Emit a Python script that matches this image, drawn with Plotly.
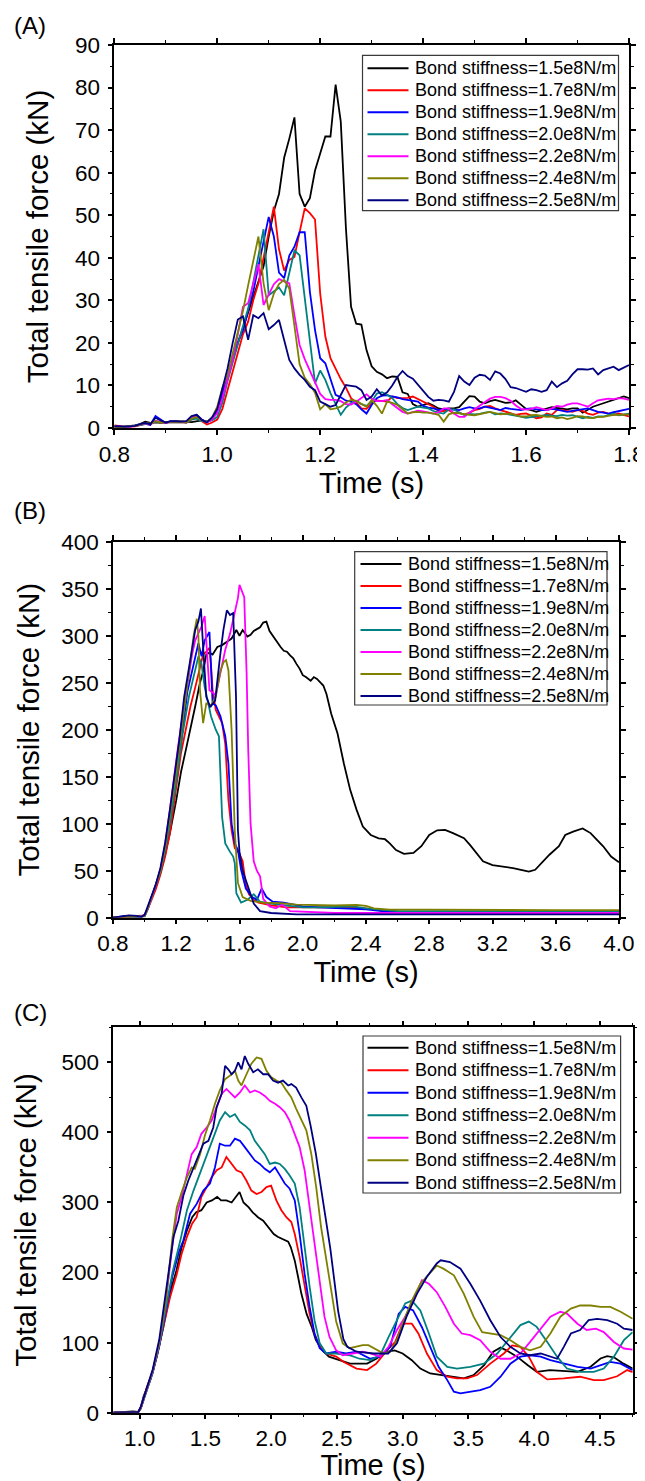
import plotly.graph_objects as go

# The page body keeps its default 8px margin, so the figure is sized to fill
# the remaining window area and reference pixels are shifted by that margin.
PAGE_W, PAGE_H, OFF = 645, 1481, 8
W, H = PAGE_W - OFF, PAGE_H - OFF
FONT = "Liberation Sans, Arial, sans-serif"

labels = ["Bond stiffness=1.5e8N/m", "Bond stiffness=1.7e8N/m", "Bond stiffness=1.9e8N/m",
          "Bond stiffness=2.0e8N/m", "Bond stiffness=2.2e8N/m", "Bond stiffness=2.4e8N/m",
          "Bond stiffness=2.5e8N/m"]
colors = ["#000000", "#FF0000", "#0000FF", "#008080", "#FF00FF", "#808000", "#000080"]

# ---------------- Panel A (0.01 s grid) ----------------
time_a = [0.80, 0.81, 0.82, 0.83, 0.84, 0.85, 0.86, 0.87, 0.88, 0.89,
          0.90, 0.91, 0.92, 0.93, 0.94, 0.95, 0.96, 0.97, 0.98, 0.99,
          1.00, 1.01, 1.02, 1.03, 1.04, 1.05, 1.06, 1.07, 1.08, 1.09,
          1.10, 1.11, 1.12, 1.13, 1.14, 1.15, 1.16, 1.17, 1.18, 1.19,
          1.20, 1.21, 1.22, 1.23, 1.24, 1.25, 1.26, 1.27, 1.28, 1.29,
          1.30, 1.31, 1.32, 1.33, 1.34, 1.35, 1.36, 1.37, 1.38, 1.39,
          1.40, 1.41, 1.42, 1.43, 1.44, 1.45, 1.46, 1.47, 1.48, 1.49,
          1.50, 1.51, 1.52, 1.53, 1.54, 1.55, 1.56, 1.57, 1.58, 1.59,
          1.60, 1.61, 1.62, 1.63, 1.64, 1.65, 1.66, 1.67, 1.68, 1.69,
          1.70, 1.71, 1.72, 1.73, 1.74, 1.75, 1.76, 1.77, 1.78, 1.79, 1.80]

a_k15 = [0.3, 0.2, 0.3, 0.4, 0.6, 0.9, 1.5, 1.2, 1.3, 1.2, 1.4, 1.5, 1.6, 1.6, 1.5, 1.4, 1.6, 1.8, 1.5, 2.2,
         4, 8, 12.5, 16.5, 20, 23.5, 27, 30.5, 34, 38,
         45, 51, 55, 63.5, 68, 73, 55, 52, 54, 60.5,
         64.5, 68.5, 68.5, 80.7, 72, 47, 28.5, 24.5, 24.3, 18.3,
         14.5, 13.2, 12.6, 11.7, 12.1, 12, 8.4, 8, 5.6, 5,
         5.4, 5.8, 5.3, 4.6, 4.4, 4.6, 4.6, 4.9, 6.2, 7.5,
         7.4, 6.2, 5.8, 6.3, 6.6, 6.2, 5.9, 6.0, 6.5, 5.5,
         4.5, 4.2, 3.8, 4.2, 4.5, 4.9, 4.7, 4.6, 4.4, 4.6,
         4.6, 3.6, 4.3, 5.0, 5.4, 5.8, 6.1, 6.6, 7.0, 7.4, 7.0]
a_k17 = [0.6, 0.4, 0.3, 0.3, 0.4, 0.7, 1.0, 0.8, 1.6, 1.3, 1.2, 1.4, 1.3, 1.4, 1.2, 2.0, 2.5, 1.6, 0.8, 1.3,
         2, 4.5, 9, 13.5, 18, 22, 25, 30, 34, 40,
         46.5, 52, 42, 37, 39.5, 40.2, 46, 51.6, 50.5, 49,
         31.6, 21.5, 16.4, 13.8, 11.5, 9.5, 7, 6, 4.6, 4.5,
         5.8, 6.5, 6.4, 6.2, 7.4, 7, 7, 7.1, 7.4, 6.8,
         6.2, 5.6, 5, 4, 4, 4.2, 3.4, 3.6, 3.1, 3.6,
         4.2, 4.5, 5, 5.2, 4.6, 4.2, 3.8, 3.4, 3.1, 3.3,
         3.4, 2.9, 2.3, 2.5, 3.4, 3.1, 4.2, 4.2, 4.0, 3.8,
         4.2, 4.0, 3.4, 3.1, 3.6, 3.8, 3.4, 3.1, 3.4, 3.0, 2.7]
a_k19 = [0.4, 0.3, 0.3, 0.4, 0.5, 0.8, 1.0, 0.7, 2.8, 2.0, 1.2, 1.6, 1.5, 1.4, 1.5, 2.6, 3.1, 2.0, 1.4, 2.2,
         4, 8, 12, 16, 20, 23, 27.5, 32, 38, 44,
         49.6, 45, 36.5, 35.2, 40.5, 42.6, 46, 46, 32, 23,
         16.4, 15.2, 11.5, 7.8, 7.2, 6.4, 6.2, 5.6, 4.4, 3.4,
         5.4, 7.0, 7.6, 7.7, 7.4, 7.2, 6.8, 6.6, 6.5, 6.2,
         5.2, 4.8, 4.6, 4.2, 4.5, 4.4, 4.2, 4.2, 4.6, 4.9,
         4.6, 4.6, 5.0, 4.8, 4.5, 4.2, 4.7, 4.5, 4.3, 4.2,
         4.5, 4.6, 4.4, 4.2, 4.2, 4.5, 4.3, 4.0, 3.8, 4.0,
         4.2, 4.4, 4.6, 4.2, 3.8, 3.6, 3.4, 3.7, 4.0, 4.3, 4.5]
a_k20 = [0.3, 0.2, 0.3, 0.4, 0.5, 0.7, 0.9, 1.1, 1.5, 1.3, 1.3, 1.4, 1.3, 1.4, 1.3, 2.0, 2.2, 1.6, 1.5, 1.8,
         2.6, 6, 11, 15.5, 20, 24, 28, 34, 40, 46.7,
         31.2, 32, 33, 31.2, 36.5, 41.7, 40.6, 30.5, 20, 10.5,
         13.5, 11.3, 8.2, 5.8, 3.1, 4.8, 5.8, 6.4, 5.6, 5.2,
         6.2, 8.1, 8.4, 7.8, 7.0, 5.6, 4.7, 4.2, 4.6, 5.0,
         4.8, 4.6, 4.0, 3.6, 3.4, 4.4, 4.4, 3.6, 3.1, 3.3,
         3.2, 3.3, 3.6, 3.8, 3.2, 3.4, 3.3, 3.1, 3.0, 2.7,
         2.4, 2.6, 2.7, 3.0, 3.1, 2.9, 2.8, 3.1, 2.9, 3.0,
         2.6, 2.3, 2.6, 2.4, 2.7, 2.7, 3.0, 3.3, 3.0, 3.2, 3.4]
a_k22 = [0.3, 0.2, 0.3, 0.3, 0.5, 0.8, 1.1, 0.9, 1.7, 1.4, 1.3, 1.5, 1.4, 1.5, 1.4, 2.5, 2.8, 1.9, 1.3, 2.0,
         3.5, 7, 11.5, 16, 22, 28.5, 29.3, 34, 38.5, 28.9,
         31.5, 33.8, 35, 34.5, 34, 26.5, 19.5, 16.2, 13.4, 11,
         8, 6.8, 6.6, 6.6, 6.3, 5.6, 5.5, 6.2, 7, 7.9,
         6.9, 6.3, 6.3, 6.6, 5.6, 4.6, 3.8, 3.4, 3.7, 4.1,
         3.9, 3.6, 3.4, 3.7, 4.6, 4.6, 3.4, 2.6, 2.6, 3.6,
         4.4, 5.2, 6.0, 6.9, 7.3, 7.3, 7.0, 6.4, 5.3, 4.5,
         4.3, 4.5, 4.9, 4.6, 4.2, 4.6, 5.2, 5.0, 5.5, 5.8,
         5.8, 5.4, 5.0, 5.8, 6.5, 6.7, 6.9, 6.8, 7.0, 6.9, 6.6]
a_k24 = [0.3, 0.2, 0.3, 0.4, 0.5, 0.8, 1.2, 1.0, 1.6, 1.3, 1.4, 1.5, 1.4, 1.5, 1.4, 2.2, 2.6, 1.8, 1.4, 2.5,
         5, 9.5, 12.5, 17.5, 22, 27.5, 33.5, 39.5, 45, 34,
         27.7, 31.6, 33.8, 34.8, 32.8, 24, 15, 11.8, 10.3, 8.3,
         4.4, 5.6, 4.4, 4.6, 5.0, 6.0, 6.6, 6.4, 5.6, 5.0,
         6.6, 5.2, 3.4, 6.2, 5.9, 5.4, 4.4, 3.4, 3.7, 3.8,
         3.6, 3.6, 3.4, 3.1, 1.5, 3.2, 3.6, 3.4, 3.3, 3.1,
         3.0, 3.3, 3.6, 3.8, 3.5, 3.2, 3.3, 3.4, 3.0, 2.7,
         2.7, 3.0, 3.1, 2.8, 2.6, 2.7, 2.3, 2.5, 2.1, 2.4,
         2.8, 2.7, 2.4, 2.3, 2.6, 2.6, 2.9, 3.1, 3.1, 3.2, 3.2]
a_k25 = [0.4, 0.3, 0.3, 0.4, 0.5, 0.9, 1.2, 0.9, 2.4, 1.8, 1.3, 1.6, 1.5, 1.5, 1.6, 2.8, 3.1, 1.9, 1.3, 2.5,
         4.5, 9, 14, 20, 25.5, 26.2, 20.7, 26.5, 25.8, 27,
         23.2, 24.2, 25.4, 20.7, 16, 14, 12.5, 11.3, 9.7, 8.9,
         6.2, 5.6, 5.0, 5.4, 7.6, 10.1, 9.9, 9.7, 8.9, 6.6,
         7.4, 9.1, 7.6, 8.4, 10.0, 12.0, 13.4, 12.2, 11.6, 10.2,
         8.9, 7.3, 6.4, 6.6, 6.5, 6.2, 8.5, 12.2, 10.9, 10.1,
         11.8, 12.5, 12.3, 11.3, 13.3, 12.8, 11.5, 9.6, 9.4, 9.0,
         8.5, 9.1, 8.9, 8.5, 8.9, 10.9, 9.6, 10.5, 11.1, 12.6,
         13.8, 13.8, 13.7, 14.0, 12.6, 13.6, 14.0, 14.4, 13.6, 14.2, 14.8]

# ---------------- Panel B ----------------
b_t15 = [0.80, 0.85, 0.90, 0.95, 0.98, 1.00, 1.02, 1.04, 1.07, 1.10, 1.13, 1.16, 1.20, 1.23, 1.26,
         1.29, 1.32, 1.35, 1.37, 1.39, 1.41, 1.43, 1.46, 1.49, 1.52, 1.55, 1.58, 1.60, 1.62, 1.65,
         1.67, 1.69, 1.71, 1.73, 1.75, 1.77, 1.79, 1.81, 1.84, 1.86, 1.88, 1.90, 1.92, 1.94, 1.96,
         1.98, 2.00, 2.02, 2.05, 2.07, 2.09, 2.11, 2.13, 2.15, 2.18, 2.22, 2.26, 2.30, 2.34, 2.38,
         2.43, 2.48, 2.52, 2.55, 2.59, 2.64, 2.70, 2.75, 2.80, 2.85, 2.90, 2.95, 3.02, 3.06, 3.10,
         3.14, 3.20, 3.27, 3.33, 3.38, 3.43, 3.47, 3.51, 3.56, 3.62, 3.66, 3.71, 3.77, 3.82, 3.86,
         3.90, 3.95, 4.00]
b_k15 = [0, 0.5, 1.5, 2, 1.5, 3, 10, 20, 32, 48, 68, 90, 125, 155, 178,
         200, 225, 250, 262, 280, 282, 280, 288, 290, 294, 297, 306, 300, 306, 299,
         301, 305, 307, 309, 314, 315, 305, 300, 293, 288, 284, 283, 279, 276, 270,
         265, 258, 256, 252, 256, 254, 250, 247, 238, 217, 196, 164, 136, 115, 97,
         88, 84.5, 83.5, 79, 72, 68, 69, 76, 88, 93, 93.4, 90, 84.5, 77, 68.6,
         60, 56, 54.5, 52.7, 51, 49, 51, 58, 67, 76, 88, 91.6, 95, 90, 83,
         76, 65, 59]
b_t17 = [0.80, 0.90, 0.95, 0.98, 1.00, 1.02, 1.04, 1.07, 1.10, 1.13, 1.16, 1.20, 1.23, 1.26, 1.29,
         1.32, 1.34, 1.37, 1.39, 1.41, 1.42, 1.43, 1.45, 1.47, 1.49, 1.51, 1.52, 1.53, 1.55, 1.57,
         1.60, 1.62, 1.64, 1.66, 1.69, 1.72, 1.75, 1.80, 1.85, 1.90, 2.00, 2.10, 2.20, 2.30, 2.40,
         2.50, 2.60, 3.00, 3.50, 4.00]
b_k17 = [0, 1, 1.5, 1, 2, 9, 18, 30, 46, 65, 90, 140, 175, 200, 225,
         245, 258, 280, 283, 287, 268, 242, 221, 214, 207, 185, 160, 125, 93, 74,
         68, 60, 35, 25, 19, 16, 15, 13, 12, 11, 11, 11, 11.5, 11, 10,
         7.5, 6.5, 6, 6, 6]
b_t19 = [0.80, 0.88, 0.95, 1.00, 1.02, 1.04, 1.07, 1.10, 1.13, 1.16, 1.20, 1.23, 1.27, 1.31, 1.34,
         1.36, 1.38, 1.41, 1.42, 1.43, 1.45, 1.46, 1.48, 1.51, 1.53, 1.55, 1.57, 1.59, 1.61, 1.64,
         1.68, 1.71, 1.74, 1.77, 1.81, 1.88, 1.95, 2.00, 2.10, 2.20, 2.30, 2.40, 2.50, 2.60, 3.00,
         3.50, 4.00]
b_k19 = [0, 2, 1, 2, 10, 20, 33, 50, 72, 105, 150, 185, 240, 271, 292,
         278, 295, 304, 260, 228, 226, 222, 214, 193, 164, 100, 79, 72, 51, 31,
         22, 19, 31, 22, 17, 16, 14, 12, 11, 10.5, 10, 9, 7, 6, 6,
         5.5, 5.5]
b_t20 = [0.80, 0.90, 0.95, 1.00, 1.02, 1.04, 1.07, 1.10, 1.13, 1.16, 1.20, 1.24, 1.28, 1.31, 1.34,
         1.36, 1.38, 1.40, 1.42, 1.45, 1.47, 1.49, 1.51, 1.54, 1.56, 1.57, 1.58, 1.61, 1.65, 1.69,
         1.73, 1.80, 1.90, 2.00, 2.10, 2.20, 2.32, 2.40, 2.50, 2.60, 3.00, 3.50, 4.00]
b_k20 = [0, 1, 1.2, 1.5, 9, 19, 32, 49, 72, 100, 145, 195, 235, 258, 278,
         270, 245, 230, 214, 200, 193, 107, 79, 70, 65, 58, 26, 16, 19, 25,
         17, 15, 13, 11, 11, 11.5, 12, 10, 8.5, 7, 7, 7, 7]
b_t22 = [0.80, 0.90, 0.95, 1.00, 1.02, 1.04, 1.07, 1.10, 1.13, 1.16, 1.18, 1.21, 1.24, 1.27, 1.30,
         1.32, 1.36, 1.38, 1.39, 1.41, 1.45, 1.48, 1.51, 1.54, 1.57, 1.59, 1.60, 1.62, 1.63, 1.645,
         1.655, 1.67, 1.69, 1.71, 1.73, 1.75, 1.79, 1.83, 1.87, 1.92, 2.00, 2.20, 2.50, 3.00, 3.50,
         4.00]
b_k22 = [0, 1, 1.5, 2.5, 10, 20, 34, 52, 78, 115, 143, 180, 215, 246, 280,
         295, 310, 321, 290, 242, 237, 260, 285, 302, 327, 340, 354, 345, 341, 260,
         180, 100, 60, 50, 44, 20, 12, 10, 14, 7, 6.5, 5, 5, 5, 5,
         5]
b_t24 = [0.80, 0.90, 0.95, 1.00, 1.02, 1.04, 1.07, 1.10, 1.13, 1.16, 1.20, 1.23, 1.26, 1.29, 1.31,
         1.33, 1.34, 1.35, 1.37, 1.39, 1.42, 1.45, 1.48, 1.50, 1.515, 1.53, 1.55, 1.57, 1.59, 1.62,
         1.67, 1.75, 1.86, 1.96, 2.10, 2.20, 2.34, 2.40, 2.45, 2.55, 2.80, 3.20, 3.60, 4.00]
b_k24 = [0, 1, 1.5, 2, 10, 20, 33, 50, 75, 108, 155, 195, 235, 275, 300,
         318, 300, 242, 207, 228, 226, 235, 263, 272, 274, 263, 200, 93, 37, 22,
         18, 16, 15.5, 14, 13, 13, 13.5, 12.5, 10, 8.5, 8.5, 8, 8, 8]
b_t25 = [0.80, 0.85, 0.90, 0.95, 0.98, 1.00, 1.02, 1.04, 1.07, 1.10, 1.13, 1.16, 1.19, 1.22, 1.25,
         1.29, 1.32, 1.34, 1.356, 1.37, 1.39, 1.415, 1.446, 1.477, 1.498, 1.52, 1.54, 1.56, 1.578, 1.59,
         1.60, 1.62, 1.64, 1.66, 1.69, 1.73, 1.80, 1.96, 2.50, 3.00, 3.50, 4.00]
b_k25 = [0, 1, 2.5, 2, 1, 3, 12, 22, 35, 53, 80, 115, 150, 190, 235,
         278, 306, 315, 329, 288, 235, 224, 231, 278, 306, 327, 322, 324, 235, 93,
         70, 50, 40, 32, 15, 7, 5, 3.5, 3.5, 3.5, 3.5, 3.5]

# ---------------- Panel C ----------------
c_t15 = [0.80, 0.90, 0.95, 0.99, 1.01, 1.03, 1.08, 1.13, 1.18, 1.23, 1.28, 1.32, 1.36, 1.40, 1.43,
         1.47, 1.51, 1.55, 1.59, 1.62, 1.66, 1.70, 1.74, 1.76, 1.79, 1.83, 1.86, 1.90, 1.94, 1.98,
         2.02, 2.05, 2.09, 2.13, 2.15, 2.18, 2.205, 2.23, 2.27, 2.31, 2.34, 2.39, 2.44, 2.52, 2.60,
         2.67, 2.73, 2.80, 2.88, 2.94, 3.00, 3.07, 3.135, 3.21, 3.29, 3.36, 3.465, 3.54, 3.62, 3.69,
         3.745, 3.79, 3.87, 3.95, 4.02, 4.12, 4.23, 4.33, 4.43, 4.505, 4.556, 4.61, 4.68, 4.75]
c_k15 = [0, 1, 2, 1, 8, 23, 46.5, 80, 122, 170, 203, 236, 260, 279, 286,
         289, 300, 303, 308, 303, 303, 300, 310, 315, 300, 293, 286, 279, 274, 265,
         255, 251, 248, 244, 236, 217, 194, 170, 141, 122, 104, 89, 80, 75, 70,
         70, 70, 77, 87, 89, 84.5, 75, 63, 56, 53.7, 51.3, 49, 53.7, 68, 87,
         93, 89, 80, 68, 58.4, 60.8, 60, 58.4, 65.5, 77.4, 80.7, 78.8, 70, 63]
c_t17 = [0.80, 0.90, 0.99, 1.01, 1.056, 1.10, 1.13, 1.18, 1.232, 1.283, 1.32, 1.36, 1.40, 1.434, 1.47,
         1.51, 1.548, 1.586, 1.624, 1.66, 1.70, 1.737, 1.775, 1.813, 1.85, 1.89, 1.927, 1.965, 2.00, 2.04,
         2.078, 2.116, 2.154, 2.18, 2.217, 2.255, 2.293, 2.33, 2.37, 2.42, 2.495, 2.55, 2.65, 2.73, 2.80,
         2.88, 2.944, 3.00, 3.07, 3.12, 3.185, 3.26, 3.34, 3.414, 3.49, 3.566, 3.667, 3.77, 3.833, 3.896,
         3.96, 4.02, 4.10, 4.226, 4.35, 4.454, 4.53, 4.632, 4.708, 4.75]
c_k17 = [0, 1, 1, 6, 37, 58, 80, 122, 165, 198, 227, 251, 270, 279, 308,
         322, 336, 346, 350, 365, 355, 346, 343, 331, 317, 312, 315, 322, 324, 303,
         289, 279, 272, 255, 222, 180, 141, 113, 94, 84.5, 80, 72.6, 63, 60.8, 70,
         89, 101, 127, 127, 113, 84.5, 60.8, 51.3, 49, 49, 53.7, 70, 84.5, 96, 94,
         80, 58.4, 47.5, 49, 51.3, 46.5, 46.5, 52, 60.8, 58]
c_t19 = [0.80, 0.90, 0.99, 1.01, 1.05, 1.10, 1.15, 1.20, 1.25, 1.30, 1.333, 1.384, 1.434, 1.485, 1.535,
         1.573, 1.61, 1.65, 1.687, 1.725, 1.763, 1.80, 1.84, 1.876, 1.914, 1.952, 1.99, 2.03, 2.066, 2.104,
         2.14, 2.18, 2.217, 2.255, 2.293, 2.33, 2.37, 2.42, 2.495, 2.57, 2.65, 2.754, 2.83, 2.906, 2.97,
         3.02, 3.08, 3.147, 3.21, 3.274, 3.34, 3.39, 3.44, 3.515, 3.59, 3.667, 3.745, 3.82, 3.896, 3.97,
         4.05, 4.124, 4.226, 4.33, 4.43, 4.505, 4.58, 4.658, 4.75]
c_k19 = [0, 1, 1, 7, 30, 57, 95, 145, 195, 230, 246, 284, 298, 317, 327,
         350, 384, 381, 381, 391, 388, 379, 369, 360, 355, 348, 343, 350, 339, 327,
         320, 303, 255, 198, 151, 113, 92, 84.5, 87, 84.5, 87, 77, 80, 94, 141,
         151, 146, 122, 94, 65.5, 46.5, 30, 27.5, 30, 32.3, 37, 51.3, 70, 80, 82,
         80, 75, 70, 65.5, 63, 68, 72.6, 70, 60.8]
c_t20 = [0.80, 0.90, 0.99, 1.01, 1.05, 1.10, 1.15, 1.20, 1.25, 1.31, 1.36, 1.41, 1.447, 1.485, 1.535,
         1.573, 1.61, 1.65, 1.687, 1.725, 1.763, 1.80, 1.84, 1.876, 1.914, 1.952, 1.99, 2.03, 2.066, 2.104,
         2.14, 2.18, 2.217, 2.255, 2.293, 2.33, 2.37, 2.42, 2.495, 2.596, 2.672, 2.754, 2.83, 2.893, 2.957,
         3.02, 3.07, 3.135, 3.20, 3.26, 3.34, 3.414, 3.515, 3.617, 3.72, 3.82, 3.896, 3.96, 4.02, 4.10,
         4.175, 4.25, 4.35, 4.454, 4.53, 4.607, 4.683, 4.75]
c_k20 = [0, 1, 1, 7, 30, 58, 97, 148, 200, 246, 289, 317, 336, 353, 381,
         398, 417, 429, 422, 426, 415, 410, 403, 388, 379, 369, 355, 357, 355, 348,
         339, 327, 293, 236, 180, 132, 99, 84.5, 84.5, 82, 77, 75, 82, 108, 132,
         156, 160, 146, 113, 80, 65.5, 63, 65.5, 70, 84.5, 108, 125, 130, 122.5, 101,
         80, 63, 58.4, 58.4, 63, 80, 103.5, 115]
c_t22 = [0.80, 0.90, 0.99, 1.01, 1.05, 1.10, 1.15, 1.20, 1.25, 1.283, 1.32, 1.36, 1.396, 1.434, 1.47,
         1.51, 1.548, 1.586, 1.624, 1.66, 1.687, 1.725, 1.763, 1.80, 1.84, 1.876, 1.914, 1.952, 1.99, 2.03,
         2.066, 2.104, 2.14, 2.18, 2.217, 2.255, 2.293, 2.33, 2.37, 2.406, 2.444, 2.495, 2.545, 2.62, 2.697,
         2.754, 2.83, 2.893, 2.957, 3.02, 3.083, 3.147, 3.20, 3.26, 3.325, 3.39, 3.45, 3.515, 3.59, 3.667,
         3.745, 3.82, 3.896, 3.97, 4.05, 4.124, 4.20, 4.25, 4.33, 4.40, 4.47, 4.53, 4.607, 4.683, 4.75]
c_k22 = [0, 1, 1, 8, 32, 60, 100, 160, 240, 284, 308, 341, 369, 379, 398,
         407, 417, 436, 455, 462, 457, 450, 457, 467, 457, 460, 457, 452, 445, 441,
         436, 429, 417, 398, 379, 346, 293, 236, 180, 137, 108, 89, 82, 84.5, 87,
         84.5, 80, 94, 118, 137, 160, 189, 184, 172, 151, 127, 113, 110.6, 103.5, 87,
         77, 77, 84.5, 101, 120, 137, 144, 141.5, 127, 118, 120, 115, 101, 91.6, 90]
c_t24 = [0.80, 0.90, 0.99, 1.01, 1.05, 1.10, 1.15, 1.20, 1.25, 1.283, 1.32, 1.36, 1.396, 1.42, 1.46,
         1.497, 1.535, 1.573, 1.61, 1.65, 1.687, 1.725, 1.75, 1.775, 1.813, 1.85, 1.89, 1.927, 1.965, 2.00,
         2.04, 2.078, 2.116, 2.154, 2.19, 2.23, 2.268, 2.306, 2.343, 2.38, 2.42, 2.457, 2.495, 2.545, 2.596,
         2.646, 2.697, 2.74, 2.805, 2.855, 2.906, 2.957, 3.00, 3.07, 3.135, 3.20, 3.26, 3.31, 3.39, 3.465,
         3.54, 3.605, 3.667, 3.745, 3.82, 3.896, 3.97, 4.05, 4.124, 4.20, 4.28, 4.35, 4.43, 4.505, 4.58,
         4.658, 4.75]
c_k24 = [0, 1, 1, 8, 32, 60, 100, 160, 250, 293, 315, 336, 350, 348, 369,
         396, 417, 441, 460, 476, 481, 488, 474, 467, 483, 498, 507, 505, 488, 479,
         474, 471, 460, 450, 434, 417, 403, 369, 322, 265, 215, 175, 130, 99, 92,
         94, 96.4, 96.4, 89, 84.5, 87, 103.5, 127, 160, 184, 198, 210, 205.6, 196, 170,
         137, 115, 113, 110.6, 103.5, 94, 89, 94, 113, 137, 148.6, 153, 153, 151, 151,
         144, 134]
c_t25 = [0.80, 0.90, 0.99, 1.01, 1.05, 1.10, 1.15, 1.20, 1.258, 1.295, 1.333, 1.37, 1.41, 1.447, 1.485,
         1.523, 1.56, 1.586, 1.624, 1.65, 1.674, 1.70, 1.725, 1.75, 1.775, 1.80, 1.826, 1.864, 1.90, 1.94,
         1.977, 2.015, 2.053, 2.09, 2.13, 2.154, 2.19, 2.23, 2.268, 2.30, 2.34, 2.38, 2.42, 2.45, 2.48,
         2.51, 2.55, 2.58, 2.65, 2.78, 2.89, 2.957, 3.03, 3.11, 3.185, 3.26, 3.29, 3.36, 3.44, 3.515,
         3.59, 3.667, 3.745, 3.82, 3.896, 3.97, 4.05, 4.124, 4.175, 4.226, 4.28, 4.35, 4.415, 4.48, 4.556,
         4.632, 4.683, 4.75]
c_k25 = [0, 1, 1, 9, 33, 62, 105, 170, 251, 274, 310, 331, 350, 365, 384,
         388, 407, 436, 455, 495, 490, 483, 488, 500, 490, 509, 498, 486, 490, 483,
         483, 474, 471, 474, 467, 469, 464, 450, 438, 410, 370, 320, 270, 235, 190,
         145, 105, 94, 87, 84.5, 84.5, 99, 137, 170, 194, 213, 217.5, 215, 205.6, 184,
         160, 132, 108, 94, 84.5, 82, 84.5, 80, 77, 94, 113, 118, 132, 134, 132,
         127, 120, 118]

panel_a = [(time_a, a_k15), (time_a, a_k17), (time_a, a_k19), (time_a, a_k20),
           (time_a, a_k22), (time_a, a_k24), (time_a, a_k25)]
panel_b = [(b_t15, b_k15), (b_t17, b_k17), (b_t19, b_k19), (b_t20, b_k20),
           (b_t22, b_k22), (b_t24, b_k24), (b_t25, b_k25)]
panel_c = [(c_t15, c_k15), (c_t17, c_k17), (c_t19, c_k19), (c_t20, c_k20),
           (c_t22, c_k22), (c_t24, c_k24), (c_t25, c_k25)]

# ---------------- layout geometry (window pixels) ----------------
panels = [
    dict(data=panel_a, tag="(A)", box=(114.3, 629, 45, 428), xr=[0.8, 1.8], xd=0.2, xm=0.1,
         yr=[0, 90], yd=10, ym=5, x0=None, ystand=18,
         leg=(362.5, 618.5, 55.3, 210.7), rows=68.3, rstep=22.0, lx=367.5, label_y=25),
    dict(data=panel_b, tag="(B)", box=(113, 619, 541.7, 917.7), xr=[0.8, 4.0], xd=0.4, xm=0.2,
         yr=[0, 400], yd=50, ym=25, x0=None, ystand=13,
         leg=(354.7, 607, 551.7, 705), rows=564.0, rstep=22.0, lx=360.5, label_y=510),
    dict(data=panel_c, tag="(C)", box=(113.3, 632.7, 1027.3, 1412.7), xr=[0.8, 4.75], xd=0.5, xm=0.25,
         yr=[0, 550], yd=100, ym=50, x0=1.0, ystand=16,
         leg=(363, 620.6, 1036, 1193), rows=1047.7, rstep=22.5, lx=367.5, label_y=1012),
]


def px(x):
    return (x - OFF) / W


def py(y):
    return 1 - (y - OFF) / H


fig = go.Figure()
shapes = []
annotations = []

for i, p in enumerate(panels):
    n = "" if i == 0 else str(i + 1)
    xa, ya = "x" + n, "y" + n
    for j, (tt, vv) in enumerate(p["data"]):
        fig.add_trace(go.Scatter(x=tt, y=vv, mode="lines", name=labels[j],
                                 line=dict(color=colors[j], width=1.8),
                                 xaxis=xa, yaxis=ya, showlegend=False))
    bx0, bx1, by0, by1 = p["box"]
    tickfont = dict(family=FONT, size=22.5, color="black")
    common = dict(showline=True, linecolor="black", linewidth=1.5, mirror="ticks",
                  ticks="outside", ticklen=5, tickwidth=1.5, tickcolor="black",
                  showgrid=False, zeroline=False, tickfont=tickfont, automargin=False)
    xaxis = dict(common, domain=[px(bx0), px(bx1)], range=p["xr"], dtick=p["xd"],
                 tickformat=".1f", anchor=ya,
                 minor=dict(dtick=p["xm"], ticks="outside", ticklen=3, tickwidth=1.2,
                            tickcolor="black", showgrid=False),
                 title=dict(text="Time (s)", font=dict(family=FONT, size=29, color="black"),
                            standoff=2))
    if p["x0"] is not None:
        xaxis["tick0"] = p["x0"]
    yaxis = dict(common, domain=[py(by1), py(by0)], range=p["yr"], dtick=p["yd"],
                 anchor=xa, ticklabelstandoff=3,
                 minor=dict(dtick=p["ym"], ticks="outside", ticklen=3, tickwidth=1.2,
                            tickcolor="black", showgrid=False),
                 title=dict(text="Total tensile force (kN)",
                            font=dict(family=FONT, size=29.5, color="black"), standoff=p["ystand"]))
    fig.update_layout(**{"xaxis" + n: xaxis, "yaxis" + n: yaxis})

    annotations.append(dict(text=p["tag"], x=px(13), y=py(p["label_y"]), xref="paper", yref="paper",
                            xanchor="left", yanchor="middle", showarrow=False, borderpad=0,
                            font=dict(family=FONT, size=24, color="black")))
    # legend box
    l0, l1, t0, t1 = p["leg"]
    shapes.append(dict(type="rect", xref="paper", yref="paper", x0=px(l0), x1=px(l1),
                       y0=py(t1), y1=py(t0), line=dict(color="#3a3a3a", width=1.2),
                       fillcolor="white", layer="above"))
    for j in range(7):
        yy = p["rows"] + j * p["rstep"]
        shapes.append(dict(type="line", xref="paper", yref="paper", x0=px(p["lx"]),
                           x1=px(p["lx"] + 41), y0=py(yy), y1=py(yy),
                           line=dict(color=colors[j], width=2), layer="above"))
        annotations.append(dict(text=labels[j], x=px(p["lx"] + 45), y=py(yy), xref="paper",
                                yref="paper", xanchor="left", yanchor="middle", showarrow=False,
                                font=dict(family=FONT, size=18, color="black")))

fig.update_layout(width=W, height=H, margin=dict(l=0, r=0, t=0, b=0),
                  paper_bgcolor="white", plot_bgcolor="white", showlegend=False,
                  font=dict(family=FONT, color="black"),
                  shapes=shapes, annotations=annotations)

fig.write_html("out.html")
